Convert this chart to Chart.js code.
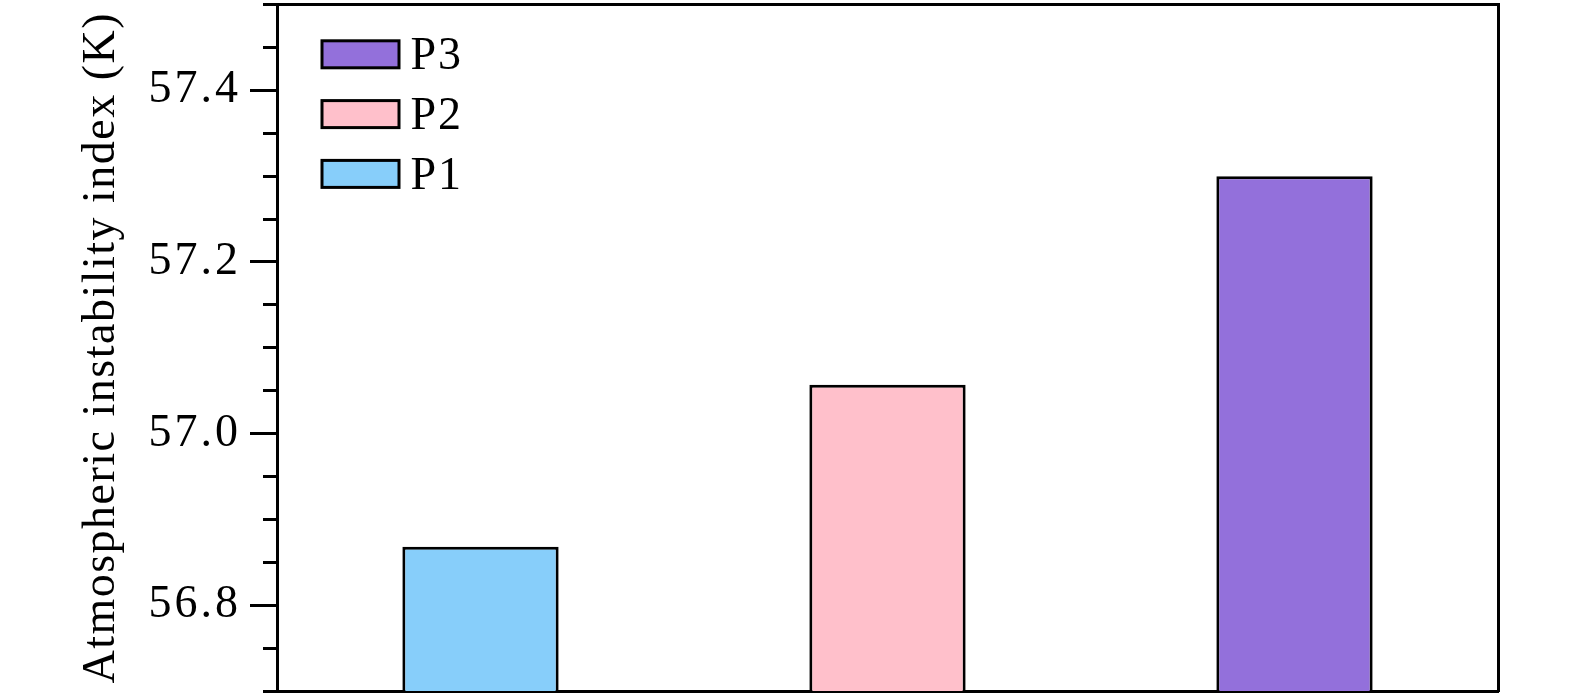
<!DOCTYPE html>
<html>
<head>
<meta charset="utf-8">
<script src="https://cdn.jsdelivr.net/npm/chart.js@4"></script>
<style>
  html, body { margin: 0; padding: 0; background: #fff; }
  #wrap { width: 1575px; height: 699px; position: relative; }
</style>
</head>
<body>
<div id="wrap"><canvas id="c" width="1575" height="699"></canvas></div>
<script>
// ---- data ----
const categories = ['P1', 'P2', 'P3'];
const values = [56.868, 57.057, 57.300];
const barColors = ['#87CEFA', '#FFC0CB', '#9370DB'];
const majorTicks = [56.8, 57.0, 57.2, 57.4];
const minorTicks = [56.7, 56.75, 56.85, 56.9, 56.95, 57.05, 57.1, 57.15, 57.25, 57.3, 57.35, 57.45, 57.5];
const yTitle = 'Atmospheric instability index (K)';

const FONT = "'Liberation Serif', 'Times New Roman', Tinos, serif";
Chart.defaults.color = '#000';
Chart.defaults.font.family = FONT;

// wider letter spacing to match the reference typography
const spacingPlugin = {
  id: 'spacing',
  beforeDraw(chart) {
    const y = chart.scales.y;
    if (y._wrapped) return;
    y._wrapped = true;
    const ctx = chart.ctx;
    const origTitle = y.drawTitle.bind(y);
    const origLabels = y.drawLabels.bind(y);
    y.drawTitle = function () { ctx.save(); ctx.letterSpacing = '1.5px'; origTitle(); ctx.restore(); };
    y.drawLabels = function (a) { ctx.save(); ctx.letterSpacing = '3px'; origLabels(a); ctx.restore(); };
  }
};

const minorTickPlugin = {
  id: 'minorTicks',
  afterDraw(chart) {
    const ctx = chart.ctx, y = chart.scales.y, ca = chart.chartArea;
    ctx.save();
    ctx.strokeStyle = '#000';
    ctx.lineWidth = 3;
    ctx.lineCap = 'butt';
    minorTicks.forEach(v => {
      const py = Math.round(y.getPixelForValue(v) - 1.5) + 1.5;
      ctx.beginPath();
      ctx.moveTo(ca.left - 14, py);
      ctx.lineTo(ca.left, py);
      ctx.stroke();
    });
    ctx.fillStyle = '#000';
    ctx.fillRect(ca.right - 1, ca.top - 1.5, 3, 3);
    ctx.restore();
  }
};

const legendPlugin = {
  id: 'customLegend',
  afterDraw(chart) {
    const ctx = chart.ctx, ca = chart.chartArea;
    const labels = chart.data.labels;
    const colors = chart.data.datasets[0].backgroundColor;
    ctx.save();
    ctx.lineWidth = 3;
    ctx.strokeStyle = '#000';
    ctx.font = '46px ' + FONT;
    ctx.letterSpacing = '2px';
    ctx.textBaseline = 'alphabetic';
    ctx.textAlign = 'left';
    const order = labels.map((l, i) => i).reverse();
    order.forEach((idx, row) => {
      const bx = ca.left + 45;
      const by = ca.top + 36.3 + row * 59.8;
      ctx.fillStyle = colors[idx];
      ctx.fillRect(bx, by, 77, 27);
      ctx.strokeRect(bx, by, 77, 27);
      ctx.fillStyle = '#000';
      ctx.fillText(labels[idx], ca.left + 133.5, by + 28.3);
    });
    ctx.restore();
  }
};

new Chart(document.getElementById('c'), {
  type: 'bar',
  data: {
    labels: categories,
    datasets: [{
      label: 'value',
      data: values,
      backgroundColor: barColors,
      borderColor: '#000',
      borderWidth: 3,
      borderSkipped: 'bottom',
      barPercentage: 0.384,
      categoryPercentage: 1.0
    }]
  },
  options: {
    responsive: false,
    animation: false,
    events: [],
    layout: { autoPadding: false, padding: { left: 0, right: 77, top: 4.5, bottom: 0 } },
    plugins: { legend: { display: false }, tooltip: { enabled: false } },
    scales: {
      x: {
        position: 'bottom',
        offset: true,
        ticks: { display: false },
        grid: { display: false, drawTicks: false },
        border: { display: true, color: '#000', width: 3 },
        afterFit(s) { s.height = 8; s.paddingLeft = 0; s.paddingRight = 0; }
      },
      x2: {
        position: 'top',
        display: true,
        ticks: { display: false },
        grid: { display: false, drawTicks: false },
        border: { display: true, color: '#000', width: 3 },
        afterFit(s) { s.height = 0; s.paddingLeft = 0; s.paddingRight = 0; }
      },
      y: {
        position: 'left',
        min: 56.7,
        max: 57.5,
        afterBuildTicks(s) { s.ticks = majorTicks.map(v => ({ value: v })); },
        ticks: {
          padding: 9,
          font: { family: FONT, size: 46 },
          color: '#000',
          callback: v => Number(v).toFixed(1)
        },
        grid: { display: true, drawOnChartArea: false, drawTicks: true, tickLength: 27, tickWidth: 3, tickColor: '#000', lineWidth: 3, color: '#000' },
        border: { display: true, color: '#000', width: 3 },
        title: {
          display: true,
          text: yTitle,
          font: { family: FONT, size: 46 },
          color: '#000',
          padding: { top: 74, bottom: 0 }
        },
        afterFit(s) { s.width = 277; s.paddingTop = 0; s.paddingBottom = 0; }
      },
      y2: {
        position: 'right',
        display: true,
        ticks: { display: false },
        grid: { display: false, drawTicks: false },
        border: { display: true, color: '#000', width: 3 },
        afterFit(s) { s.width = 0; s.paddingTop = 0; s.paddingBottom = 0; }
      }
    }
  },
  plugins: [spacingPlugin, minorTickPlugin, legendPlugin]
});
</script>
</body>
</html>
